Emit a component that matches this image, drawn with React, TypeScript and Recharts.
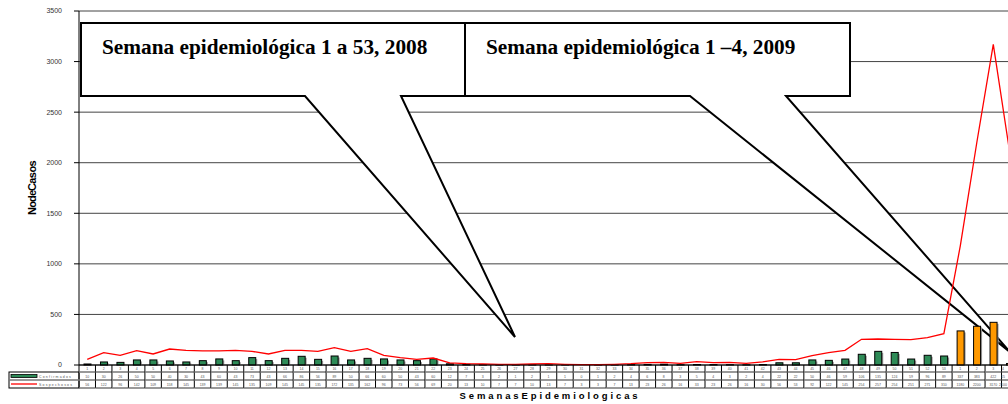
import React from "react";
import { Bar, CartesianGrid, ComposedChart, Customized, Line, XAxis, YAxis } from "recharts";

// semanas: 1..53 de 2008 y 1..4 de 2009
const weekLabels = [
  "1", "2", "3", "4", "5", "6", "7", "8", "9", "10",
  "11", "12", "13", "14", "15", "16", "17", "18", "19", "20",
  "21", "22", "23", "24", "25", "26", "27", "28", "29", "30",
  "31", "32", "33", "34", "35", "36", "37", "38", "39", "40",
  "41", "42", "43", "44", "45", "46", "47", "48", "49", "50",
  "51", "52", "53",
  "1", "2", "3", "4",
];
const weeksIn2008 = 53;

const confirmados = [
  10, 30, 26, 50, 50, 40, 30, 43, 60, 43,
  73, 43, 66, 86, 56, 89, 50, 66, 60, 50,
  43, 60, 12, 7, 3, 2, 1, 2, 1, 1,
  0, 1, 2, 4, 6, 8, 3, 5, 4, 3,
  2, 4, 22, 22, 50, 46, 59, 106, 135, 124,
  59, 96, 89,
  337, 383, 422, 15,
];

const sospechosos = [
  56, 122, 96, 142, 109, 158, 145, 139, 139, 145,
  135, 109, 145, 145, 135, 172, 135, 162, 96, 73,
  56, 69, 20, 13, 10, 7, 7, 10, 13, 7,
  3, 3, 7, 13, 23, 26, 16, 33, 23, 26,
  16, 30, 56, 53, 92, 122, 145, 254, 257, 254,
  251, 271, 310,
  1180, 2200, 3170, 2100,
];

const yTicks = [0, 500, 1000, 1500, 2000, 2500, 3000, 3500];

const rows = weekLabels.map((w, i) => ({
  id: `${i < weeksIn2008 ? 2008 : 2009}-${w}`,
  week: w,
  year: i < weeksIn2008 ? 2008 : 2009,
  conf: confirmados[i],
  sosp: sospechosos[i],
}));

const CW = 1030;
const CH = 404;
const LEFT = 79;
const BOTTOM = 365;
const RIGHT = 1018;
const colW = (RIGHT - LEFT) / rows.length;

const sans = "'Liberation Sans', Arial, sans-serif";
const serif = "'Liberation Serif', 'Times New Roman', serif";

function ShadowBar(props: any) {
  const { x, y, width, height, payload } = props;
  if (!height || height <= 0) return null;
  const fill = payload.year === 2008 ? "#2E8B57" : "#FF9900";
  return (
    <g>
      <rect x={x + 1.5} y={y + 1.5} width={width} height={height - 1.5} fill="#9a9a9a" />
      <rect x={x} y={y} width={width} height={height} fill={fill} stroke="#000" strokeWidth={1} />
    </g>
  );
}

function TableTick(props: any) {
  const { x, index } = props;
  const r = rows[index];
  if (!r) return null;
  const x0 = x - colW / 2;
  // la última columna queda cortada por el borde, como en el original
  const tx = Math.min(x, 1008 - 5);
  const txt = { fontSize: 3.5, fill: "#555", fontFamily: sans, textAnchor: "middle" as const };
  return (
    <g>
      <line x1={x0} x2={x0 + colW} y1={372} y2={372} stroke="#777" strokeWidth={1.5} />
      <line x1={x0} x2={x0 + colW} y1={380} y2={380} stroke="#777" strokeWidth={1.5} />
      <line x1={x0} x2={x0 + colW} y1={388} y2={388} stroke="#777" strokeWidth={1.5} />
      <line x1={x0 + colW} x2={x0 + colW} y1={BOTTOM} y2={388} stroke="#000" strokeWidth={1} />
      <text x={tx} y={370} {...txt}>{r.week}</text>
      <text x={tx} y={378} {...txt}>{r.conf}</text>
      <text x={tx} y={386} {...txt}>{r.sosp}</text>
    </g>
  );
}

function Callouts() {
  const box1 = "M81,23 L465,23 L465,96 L401,96 L515,337 L305,96 L81,96 Z";
  const box2 = "M465,23 L850,23 L850,96 L786,96 L1010,352 L690,96 L465,96 Z";
  return (
    <g>
      <path d={box1} fill="#fff" stroke="#000" strokeWidth={2} strokeLinejoin="miter" />
      <path d={box2} fill="#fff" stroke="#000" strokeWidth={2} strokeLinejoin="miter" />
      <text x={102} y={54} fontFamily={serif} fontWeight="bold" fontSize={21.3} fill="#000">
        Semana epidemiológica 1 a 53, 2008
      </text>
      <text x={486} y={54} fontFamily={serif} fontWeight="bold" fontSize={21.3} fill="#000">
        Semana epidemiológica 1 –4, 2009
      </text>
    </g>
  );
}

function Decor() {
  const small = { fontSize: 3.5, fill: "#555", fontFamily: sans, letterSpacing: 1.2 };
  return (
    <g>
      <line x1={LEFT} x2={LEFT} y1={BOTTOM} y2={388} stroke="#000" />
      <rect x={9} y={372} width={LEFT - 9} height={16} fill="none" stroke="#000" strokeWidth={1} />
      <line x1={9} x2={LEFT} y1={380} y2={380} stroke="#777" strokeWidth={1.5} />
      <rect x={11} y={374.5} width={26} height={3} fill="#2E8B57" stroke="#000" strokeWidth={0.8} />
      <line x1={11} x2={37} y1={384} y2={384} stroke="#FF0000" strokeWidth={1.3} />
      <text x={39} y={378} {...small}>Confirmados</text>
      <text x={39} y={386} {...small}>Sospechosos</text>
      <text
        x={550}
        y={399}
        textAnchor="middle"
        fontFamily={sans}
        fontWeight="bold"
        fontSize={9.5}
        letterSpacing={2.9}
        fill="#000"
      >
        SemanasEpidemiologicas
      </text>
      <text
        x={0}
        y={0}
        transform="translate(36,188) rotate(-90)"
        textAnchor="middle"
        fontFamily={sans}
        fontWeight="bold"
        fontSize={11}
        letterSpacing={-0.6}
        wordSpacing={-3}
        fill="#000"
      >
        No de Casos
      </text>
    </g>
  );
}

export default function App() {
  return (
    <div
      style={{
        position: "fixed",
        left: 0,
        top: 0,
        width: 1008,
        height: 404,
        overflow: "hidden",
        background: "#fff",
      }}
    >
      <ComposedChart
        width={CW}
        height={CH}
        data={rows}
        margin={{ top: 11, right: CW - RIGHT, left: 19, bottom: 0 }}
        barCategoryGap={0}
      >
        <CartesianGrid vertical={false} stroke="#444" strokeWidth={1} />
        <Customized component={<Callouts />} />
        <XAxis
          dataKey="id"
          height={CH - BOTTOM}
          interval={0}
          axisLine={{ stroke: "#000" }}
          tickLine={false}
          tick={<TableTick />}
        />
        <YAxis
          width={60}
          domain={[0, 3500]}
          ticks={yTicks}
          interval={0}
          tickSize={5}
          tickMargin={12}
          axisLine={{ stroke: "#000" }}
          tickLine={{ stroke: "#000" }}
          tick={{ fontSize: 7, fill: "#333", fontFamily: sans }}
        />
        <Bar dataKey="conf" barSize={7} shape={<ShadowBar />} isAnimationActive={false} />
        <Line
          type="linear"
          dataKey="sosp"
          stroke="#FF0000"
          strokeWidth={1.3}
          dot={false}
          activeDot={false}
          isAnimationActive={false}
        />
        <Customized component={<Decor />} />
      </ComposedChart>
    </div>
  );
}
